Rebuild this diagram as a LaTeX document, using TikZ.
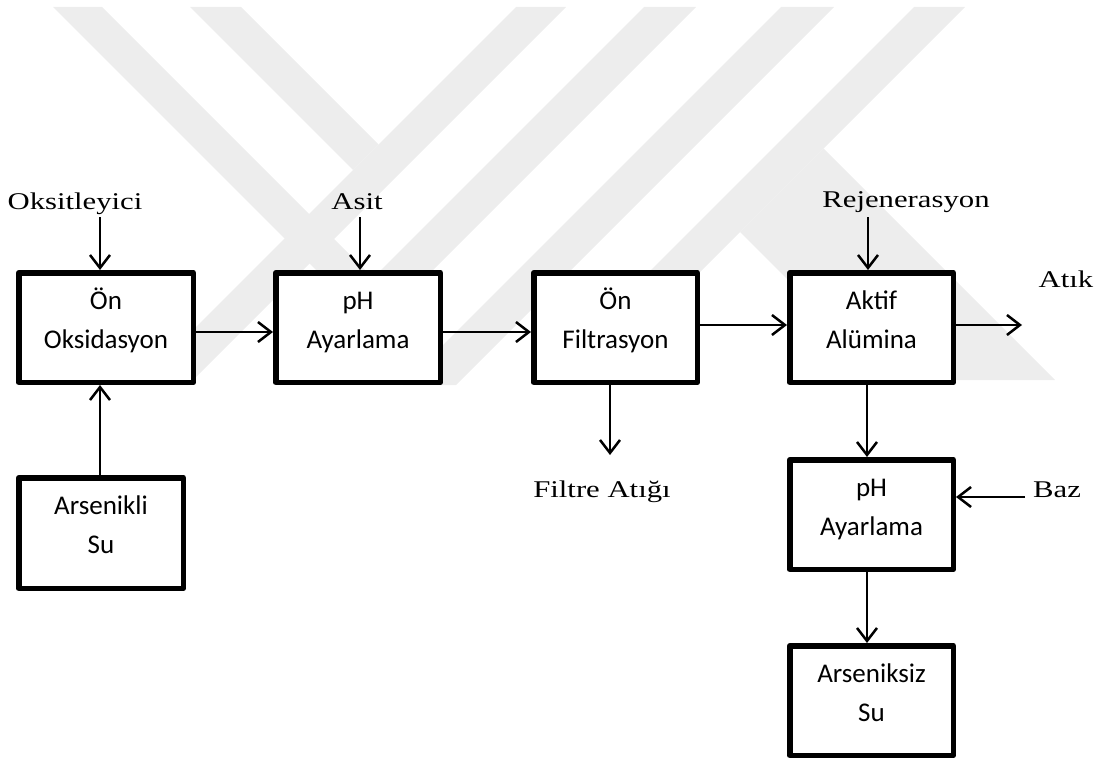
\documentclass[tikz,border=0pt]{standalone}
\usepackage{fontspec}
\setmainfont{Carlito}
\newfontfamily\lab[FakeStretch=1.28]{Liberation Serif}
\usetikzlibrary{arrows.meta}
\definecolor{wm}{RGB}{237,237,237}
\tikzset{
  box/.style={draw, line width=5.5pt, fill=white, line join=round, inner sep=0pt,
    align=center, font=\fontsize{27}{39}\selectfont},
  arr/.style={line width=2.5pt, -{Straight Barb[length=13pt,width=20pt]}},
  lbl/.style={anchor=base, inner sep=0pt, font=\lab\fontsize{24}{28}\selectfont},
}
\newcommand\bxt[2]{\rule{0pt}{22pt}#1\\#2\rule[-20pt]{0pt}{20pt}}
\begin{document}
\begin{tikzpicture}[x=1pt,y=-1pt]
\useasboundingbox (0,0) rectangle (1103,760);
% watermark
\fill[wm] (53,7)--(102,7)--(373,278)--(644,7)--(696,7)--(374.5,328.5)--cycle;
\fill[wm] (190,7)--(241,7)--(378.5,144.5)--(353,170)--cycle;
\fill[wm] (516,7)--(566,7)--(188,385)--(138,385)--cycle;
\fill[wm] (781,7)--(834,7)--(456,385)--(403,385)--cycle;
\fill[wm] (914,7)--(965,7)--(587,385)--(536,385)--cycle;
\fill[wm] (823.5,148.5)--(1055,380)--(888,380)--(740,232)--cycle;
% boxes
\node[box, minimum width=174.5pt, minimum height=109.5pt] (b1) at (106,327.5) {\bxt{Ön}{Oksidasyon}};
\node[box, minimum width=164.5pt, minimum height=109.5pt] (b2) at (358,327.5) {\bxt{pH}{Ayarlama}};
\node[box, minimum width=163.5pt, minimum height=109.5pt] (b3) at (615.5,327.5) {\bxt{Ön}{Filtrasyon}};
\node[box, minimum width=163.5pt, minimum height=109.5pt] (b4) at (871.5,327.5) {\bxt{Aktif}{Alümina}};
\node[box, minimum width=163.5pt, minimum height=109.5pt] (b5) at (871.5,514.5) {\bxt{pH}{Ayarlama}};
\node[box, minimum width=163.5pt, minimum height=109.5pt] (b6) at (871.5,700.5) {\bxt{Arseniksiz}{Su}};
\node[box, minimum width=164.5pt, minimum height=110.5pt] (b7) at (101,533) {\bxt{Arsenikli}{Su}};
% labels
\node[lbl] (oks) at (75,209) {Oksitleyici};
\node[lbl] (asit) at (357,209) {Asit};
\node[lbl] (rej) at (906,207) {Rejenerasyon};
\node[lbl] (atik) at (1066,287) {Atık};
\node[lbl] (filt) at (602,497) {Filtre Atığı};
\node[lbl] (baz) at (1057,497) {Baz};
% connectors
\coordinate (oksin) at (100,217);
\coordinate (asitin) at (360,217);
\coordinate (rejin) at (868,217);
\coordinate (atikend) at (1022,325);
\coordinate (filtend) at (610,455);
\coordinate (bazst) at (1025,497);
\draw[arr] (oksin) -- (oksin |- b1.north);
\draw[arr] (asitin) -- (asitin |- b2.north);
\draw[arr] (rejin) -- (rejin |- b4.north);
\draw[arr] ([xshift=-1pt]b7.north) -- ([xshift=-6pt]b1.south);
\draw[arr] ([yshift=-4.5pt]b1.east) -- ([yshift=-4.5pt]b2.west);
\draw[arr] ([yshift=-4.5pt]b2.east) -- ([yshift=-4.5pt]b3.west);
\draw[arr] ([yshift=2.5pt]b3.east) -- ([yshift=2.5pt]b4.west);
\draw[arr] (atikend -| b4.east) -- (atikend);
\draw[arr] (filtend |- b3.south) -- (filtend);
\draw[arr] ([xshift=-4.5pt]b4.south) -- ([xshift=-4.5pt]b5.north);
\draw[arr] (bazst) -- (bazst -| b5.east);
\draw[arr] ([xshift=-4.5pt]b5.south) -- ([xshift=-4.5pt]b6.north);
\end{tikzpicture}
\end{document}
